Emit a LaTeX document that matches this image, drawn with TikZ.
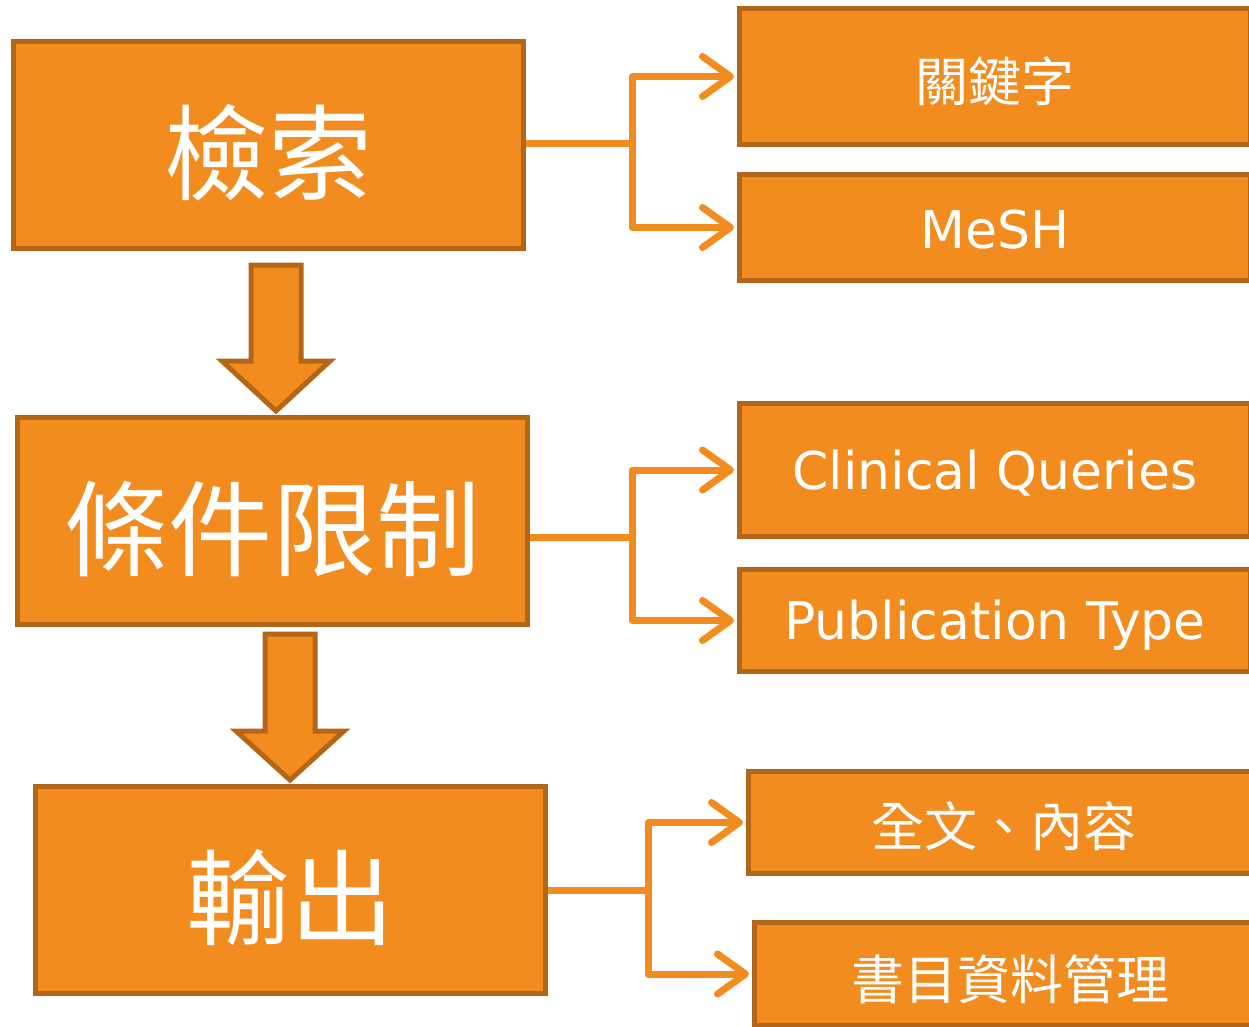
\documentclass[tikz,border=0pt]{standalone}
\usepackage{fontspec}
\setmainfont{DejaVu Sans}
\newfontfamily\cjk{Noto Sans CJK TC}
\usetikzlibrary{arrows.meta}
\definecolor{boxfill}{RGB}{242,140,30}
\definecolor{boxline}{RGB}{180,102,24}
\newcommand\lowr[2]{\raisebox{-#1}[\height][\depth]{#2}}
\begin{document}
\begin{tikzpicture}[x=1pt,y=-1pt,
  mainbox/.style={draw=boxline,fill=boxfill,line width=5pt,inner sep=0pt,
    minimum width=510pt,minimum height=207pt,text=white,font=\cjk\fontsize{104}{104}\selectfont},
  sidebox/.style={draw=boxline,fill=boxfill,line width=5pt,inner sep=0pt,
    minimum width=511pt,text=white},
  cjkside/.style={font=\cjk\fontsize{53}{53}\selectfont},
  latside/.style={font=\fontsize{52}{52}\selectfont},
  conn/.style={draw=boxfill,line width=7pt,line join=round},
  tipped/.style={conn,-{Straight Barb[length=28pt,width=40pt,line cap=round,round]},shorten >=3pt},
  bigarrow/.style={draw=boxline,fill=boxfill,line width=5pt,line join=miter}
]
\useasboundingbox (0,0) rectangle (1249,1027);
\begin{scope}
\clip (0,0) rectangle (1249,1027);
% main boxes
\node[mainbox] (s1) at (268.5,145) {\lowr{8pt}{檢索}};
\node[mainbox] (s2) at (272.5,521) {\lowr{8pt}{條件限制}};
\node[mainbox] (s3) at (290.5,890) {\lowr{8pt}{輸出}};
% side boxes
\node[sidebox,cjkside,minimum height=136pt] (k1) at (995,76.5) {\lowr{5pt}{關鍵字}};
\node[sidebox,latside,minimum height=106pt] (k2) at (995,227.5) {\lowr{2pt}{MeSH}};
\node[sidebox,latside,minimum height=133pt] (k3) at (995,470) {\lowr{3pt}{Clinical Queries}};
\node[sidebox,latside,minimum height=102pt] (k4) at (995,620.5) {\lowr{5pt}{Publication Type}};
\node[sidebox,cjkside,minimum height=102pt] (k5) at (1004,822.5) {\lowr{4pt}{全文、內容}};
\node[sidebox,cjkside,minimum height=103pt] (k6) at (1010,974) {\lowr{5pt}{書目資料管理}};
% junctions
\coordinate (j1) at (632,144);
\coordinate (j2) at (632,537);
\coordinate (j3) at (648,890);
% connectors
\draw[conn] (s1.east |- j1) -- (j1);
\draw[tipped] (j1) |- (k1.west);
\draw[tipped] (j1) |- (k2.west);
\draw[conn] (s2.east |- j2) -- (j2);
\draw[tipped] (j2) |- (k3.west);
\draw[tipped] (j2) |- (k4.west);
\draw[conn] (s3.east |- j3) -- (j3);
\draw[tipped] (j3) |- (k5.west);
\draw[tipped] (j3) |- (k6.west);
% big down arrows
\draw[bigarrow] (251,265) -- (301,265) -- (301,361) -- (330,361) -- (276,411) -- (222,361) -- (251,361) -- cycle;
\draw[bigarrow] (265,634) -- (315,634) -- (315,731) -- (344,731) -- (290,780) -- (236,731) -- (265,731) -- cycle;
\end{scope}
\end{tikzpicture}
\end{document}
